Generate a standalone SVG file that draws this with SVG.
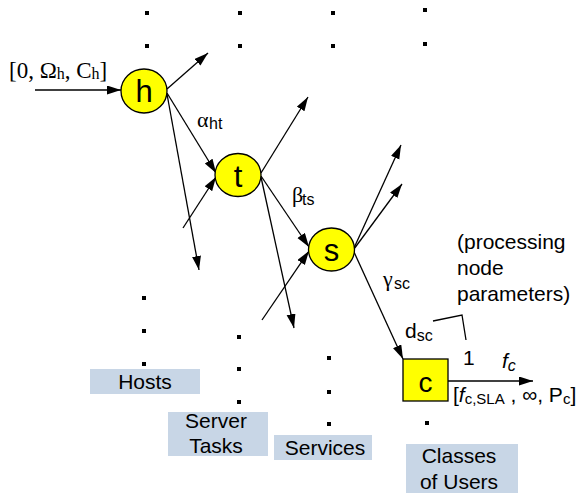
<svg xmlns="http://www.w3.org/2000/svg" width="576" height="493" viewBox="0 0 576 493">
<style>
.sans{font-family:"Liberation Sans",Arial,sans-serif;fill:#000}
.serif{font-family:"Liberation Serif","Times New Roman",serif;fill:#000}
.node{fill:#FFFF00;stroke:#000;stroke-width:1.3}
.lbl{fill:#C8D6E6}
.edge{stroke:#000;stroke-width:1.3;fill:none}
.dot{fill:#000}
</style>
<defs>
<marker id="ah" markerUnits="userSpaceOnUse" markerWidth="15" markerHeight="10" refX="14" refY="4.5" orient="auto">
<path d="M0,0 L14,4.5 L0,9 z" fill="#000"/>
</marker>
</defs>
<rect width="576" height="493" fill="#fff"/>

<g id="dots">
<rect class="dot" x="145" y="11" width="4" height="4"/>
<rect class="dot" x="145" y="44" width="4" height="4"/>
<rect class="dot" x="142" y="296" width="4" height="4"/>
<rect class="dot" x="142" y="329" width="4" height="4"/>
<rect class="dot" x="142" y="362" width="4" height="4"/>
<rect class="dot" x="238" y="11" width="4" height="4"/>
<rect class="dot" x="238" y="44" width="4" height="4"/>
<rect class="dot" x="237" y="335" width="4" height="4"/>
<rect class="dot" x="237" y="367" width="4" height="4"/>
<rect class="dot" x="237" y="400" width="4" height="4"/>
<rect class="dot" x="331" y="11" width="4" height="4"/>
<rect class="dot" x="331" y="44" width="4" height="4"/>
<rect class="dot" x="327" y="356" width="4" height="4"/>
<rect class="dot" x="327" y="390" width="4" height="4"/>
<rect class="dot" x="327" y="422" width="4" height="4"/>
<rect class="dot" x="423" y="8" width="4" height="4"/>
<rect class="dot" x="423" y="42" width="4" height="4"/>
<rect class="dot" x="425" y="421" width="4" height="4"/>
</g>

<g id="connectors">
<path class="edge" d="M35,90 L121,90" marker-end="url(#ah)"/>
<path class="edge" d="M167,89 L208,53" marker-end="url(#ah)"/>
<path class="edge" d="M167,93 L216,173" marker-end="url(#ah)"/>
<path class="edge" d="M167,94 L199,270" marker-end="url(#ah)"/>
<path class="edge" d="M183,228 L216,177" marker-end="url(#ah)"/>
<path class="edge" d="M261,173 L308,97" marker-end="url(#ah)"/>
<path class="edge" d="M261,176 L309,247" marker-end="url(#ah)"/>
<path class="edge" d="M261,177 L294,328" marker-end="url(#ah)"/>
<path class="edge" d="M262,320 L309,251" marker-end="url(#ah)"/>
<path class="edge" d="M354,248 L401,145" marker-end="url(#ah)"/>
<path class="edge" d="M354,249 L402,184" marker-end="url(#ah)"/>
<path class="edge" d="M354,252 L403,359" marker-end="url(#ah)"/>
<path class="edge" d="M448,381 L533,381" marker-end="url(#ah)"/>
<path class="edge" d="M433,321 L462,315 L466,340"/>
</g>

<g id="edge-labels">
<text class="serif" x="9" y="78" font-size="23">[0, Ω<tspan font-size="16" dy="1">h</tspan><tspan dy="-1">, C</tspan><tspan font-size="16" dy="1">h</tspan><tspan dy="-1">]</tspan></text>
<text class="serif" x="197" y="127" font-size="22">α</text><text class="sans" x="209" y="129" font-size="16">ht</text>
<text class="serif" x="292" y="202" font-size="22">β</text><text class="sans" x="302" y="205" font-size="16">ts</text>
<text class="serif" x="383" y="286" font-size="22">γ</text><text class="sans" x="394" y="289" font-size="16">sc</text>
<text class="sans" x="405" y="338" font-size="21">d<tspan font-size="16" dy="3">sc</tspan></text>
<text class="sans" x="463" y="365" font-size="21">1</text>
<text class="sans" x="502" y="368" font-size="21" font-style="italic">f<tspan font-size="16" dy="3">c</tspan></text>
<text class="sans" x="453" y="402" font-size="21">[<tspan font-style="italic">f</tspan><tspan font-size="15" dy="2">c,SLA</tspan><tspan dy="-2"> , ∞, P</tspan><tspan font-size="15" dy="2">c</tspan><tspan dy="-2">]</tspan></text>
<text class="sans" font-size="21"><tspan x="457" y="249">(processing</tspan><tspan x="457" y="275">node</tspan><tspan x="457" y="301">parameters)</tspan></text>
</g>

<g id="node-h">
<ellipse class="node" cx="144" cy="91" rx="23" ry="22"/>
<text class="sans" x="144" y="102" font-size="31" text-anchor="middle">h</text>
</g>
<g id="node-t">
<ellipse class="node" cx="238" cy="175" rx="23" ry="21.5"/>
<text class="sans" x="238" y="187" font-size="31" text-anchor="middle">t</text>
</g>
<g id="node-s">
<ellipse class="node" cx="331.5" cy="249.5" rx="23" ry="21.5"/>
<text class="sans" x="331.5" y="261" font-size="31" text-anchor="middle">s</text>
</g>
<g id="node-c">
<rect class="node" x="403" y="359" width="45" height="42"/>
<text class="sans" x="425.5" y="392" font-size="28" text-anchor="middle">c</text>
</g>

<g id="label-hosts">
<rect class="lbl" x="90" y="369" width="110" height="25"/>
<text class="sans" x="145" y="389" font-size="21" text-anchor="middle">Hosts</text>
</g>
<g id="label-server-tasks">
<rect class="lbl" x="168" y="412" width="100" height="44"/>
<text class="sans" font-size="21" text-anchor="middle"><tspan x="216" y="428">Server</tspan><tspan x="216" y="453">Tasks</tspan></text>
</g>
<g id="label-services">
<rect class="lbl" x="274" y="435" width="98" height="25"/>
<text class="sans" x="325" y="455" font-size="21" text-anchor="middle">Services</text>
</g>
<g id="label-classes">
<rect class="lbl" x="406" y="444" width="112" height="49"/>
<text class="sans" font-size="21" text-anchor="middle"><tspan x="459" y="463">Classes</tspan><tspan x="459" y="489">of Users</tspan></text>
</g>
</svg>
